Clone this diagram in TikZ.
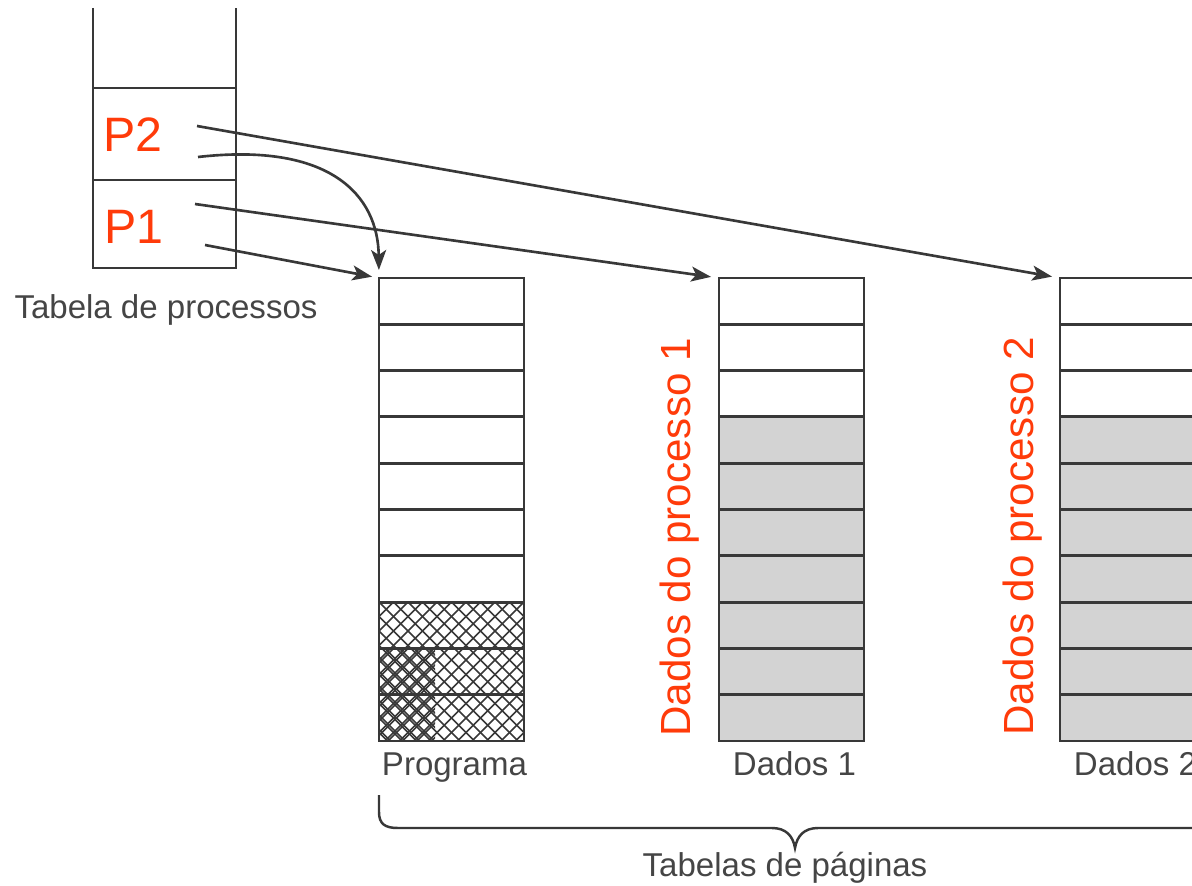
\documentclass[tikz,border=0pt]{standalone}
\usepackage{fontspec}
\setmainfont{Liberation Sans}
\usepackage{xcolor}
\usetikzlibrary{arrows.meta,positioning,calc}

\definecolor{lineGray}{HTML}{383838}
\definecolor{cellFill}{HTML}{D3D3D3}
\definecolor{txtRed}{HTML}{FF3B0A}
\definecolor{txtGray}{HTML}{454545}

\begin{document}
\begin{tikzpicture}[
  x=0.02cm, y=-0.02cm,
  tbl/.style={draw=lineGray, line width=1.6pt},
  tab/.style={minimum width=2.9cm, minimum height=9.26cm, inner sep=0pt,
              outer sep=0pt, anchor=north west},
  pid/.style={text=txtRed, font=\fontsize{27.5}{28}\selectfont, inner sep=0pt,
              anchor=base west},
  side/.style={text=txtRed, font=\fontsize{24}{24}\selectfont, inner sep=0pt,
               rotate=90, anchor=base west},
  lbl/.style={text=txtGray, font=\fontsize{18.8}{19}\selectfont, inner sep=0pt,
              anchor=base},
  hatch/.style={draw=lineGray, line width=0.9pt},
  ar/.style={draw=lineGray, line width=1.5pt,
             -{Stealth[length=4mm, width=3mm, inset=1mm]}}
]
\useasboundingbox (0,0) rectangle (1192,885);
\clip (0,0) rectangle (1192,885);

% process table
\draw[tbl] (93,8) -- (93,268) -- (236,268) -- (236,8);
\draw[tbl] (93,88) -- (236,88) (93,180) -- (236,180);
\node[pid] (p2) at (103,152) {P2};
\node[pid] (p1) at (104,243) {P1};
\node[lbl] (proctab) at (166,318) {Tabela de processos};

% page tables
\node[tab] (prog) at (379,278) {};
\node[tab] (d1) at (719,278) {};
\node[tab] (d2) at (1060,278) {};

\fill[cellFill] ($(d1.north west)+(0,139)$) rectangle (d1.south east);
\fill[cellFill] ($(d2.north west)+(0,139)$) rectangle (d2.south east);

\begin{scope}
  \clip ($(prog.north west)+(0,324)$) rectangle (prog.south east);
  \foreach \k in {-10,...,10} {
    \draw[hatch] ($(prog.north west)+(14.5*\k,324)$) -- ++(145,145);
    \draw[hatch] ($(prog.north west)+(14.5*\k+145,324)$) -- ++(-145,145);
  }
\end{scope}
\begin{scope}
  \clip ($(prog.north west)+(0,370)$) rectangle ($(prog.south west)+(56,0)$);
  \foreach \k in {-10,...,10} {
    \draw[hatch] ($(prog.north west)+(14.5*\k+3,324)$) -- ++(145,145);
    \draw[hatch] ($(prog.north west)+(14.5*\k+148,324)$) -- ++(-145,145);
  }
\end{scope}

\foreach \t in {prog,d1,d2} {
  \foreach \r in {1,...,9}
    \draw[tbl] ($(\t.north west)+(0,46.3*\r)$) -- ++(145,0);
  \draw[tbl] (\t.north west) rectangle (\t.south east);
}

\node[lbl] (progl) at ($(prog.south)+(3,35)$) {Programa};
\node[lbl] (d1l) at ($(d1.south)+(3,35)$) {Dados 1};
\node[lbl] (d2l) at ($(d2.south)+(3,35)$) {Dados 2};

\node[side] (d1side) at (690,737) {Dados do processo 1};
\node[side] (d2side) at (1033,736) {Dados do processo 2};

% pointers
\coordinate (p2a) at (197,126);
\coordinate (p2b) at (198,157);
\coordinate (p1a) at (195,204);
\coordinate (p1b) at (205,245);
\draw[ar, shorten >=1.6mm] (p2a) -- (d2.north west);
\draw[ar, shorten >=1.6mm] (p1a) -- (d1.north west);
\draw[ar, shorten >=1.4mm] (p1b) -- (prog.north west);
\draw[ar, shorten >=1.6mm] (p2b) .. controls (330,142) and (378,195) .. (prog.north west);

% brace
\draw[tbl, line width=1.4pt] (379,795) -- (379,812)
  .. controls (379,824) and (385,828) .. (398,828) -- (772,828)
  .. controls (786,828) and (793,836) .. (795,848)
  .. controls (797,836) and (804,828) .. (818,828) -- (1200,828);
\node[lbl] (pgtab) at (785,876) {Tabelas de páginas};
\end{tikzpicture}
\end{document}
